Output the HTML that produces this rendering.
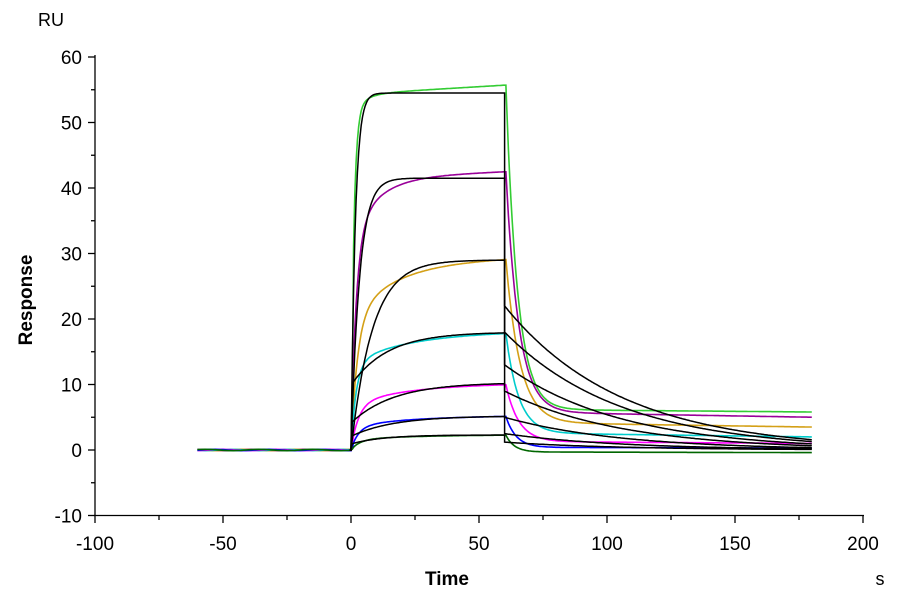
<!DOCTYPE html>
<html><head><meta charset="utf-8"><style>
body{margin:0;background:#fff;}
svg{display:block;font-family:"Liberation Sans",sans-serif;}
</style></head><body>
<svg id="s" width="900" height="600" viewBox="0 0 900 600">
<text x="38" y="26" font-size="18">RU</text>
<text x="447" y="585" font-size="19" font-weight="bold" text-anchor="middle">Time</text>
<text x="880" y="585" font-size="18" text-anchor="middle">s</text>
<text transform="translate(32,300) rotate(-90)" font-size="19" font-weight="bold" text-anchor="middle">Response</text>
<g id="ax" stroke="#000" stroke-width="1.3" fill="none"></g>
<g id="lb" font-size="19" fill="#000"></g>
<g id="cv" fill="none" stroke-width="1.6"></g>
</svg>
<script>
var NS="http://www.w3.org/2000/svg";
function X(t){return 351+2.56*t;}
function Y(v){return 450-6.55*v;}
function el(p,tag,a,txt){var e=document.createElementNS(NS,tag);for(var k in a)e.setAttribute(k,a[k]);if(txt!=null)e.textContent=txt;document.getElementById(p).appendChild(e);}
el("ax","line",{x1:95,y1:55,x2:95,y2:516});
el("ax","line",{x1:94,y1:515.5,x2:864,y2:515.5});
for(var v=-10;v<=60;v+=5){var y=Y(v),big=v%10==0;el("ax","line",{x1:big?88:91,y1:y,x2:95,y2:y});
 if(big)el("lb","text",{x:82,y:y+7,"text-anchor":"end"},v);}
for(var t=-100;t<=200;t+=25){var x=X(t),big=t%50==0;el("ax","line",{x1:x,y1:515.5,x2:x,y2:big?523:520});
 if(big)el("lb","text",{x:x,y:550,"text-anchor":"middle"},t);}
function path(pts,c,w){var d="";pts.forEach(function(p,i){d+=(i?"L":"M")+X(p[0]).toFixed(1)+","+Y(p[1]).toFixed(1);});el("cv","path",{d:d,stroke:c,"stroke-width":w||1.6});}
var S=[
 {c:"#33cc33",A:54.3,k1:0.9,k2:0.2,f:0.95,dr:1.4,b:6.2,bd:5.8,kd:0.22,F0:54.5,F60:22},
 {c:"#990099",A:41.5,k1:0.5,k2:0.1,f:0.78,dr:1.0,b:5.8,bd:5.0,kd:0.2,F0:41.5,F60:18},
 {c:"#d4a017",A:28.5,k1:0.4,k2:0.06,f:0.7,dr:0.8,b:4.2,bd:3.5,kd:0.18,F0:29,F60:13},
 {c:"#00cccc",A:17.5,k1:0.5,k2:0.05,f:0.75,dr:0.5,b:2.6,bd:2.0,kd:0.2,F0:18,F60:9},
 {c:"#ff00ff",A:9.8,k1:0.35,k2:0.05,f:0.7,dr:0.3,b:1.3,bd:1.0,kd:0.2,F0:10.3,F60:5},
 {c:"#0000ff",A:5.0,k1:0.35,k2:0.05,f:0.7,dr:0.2,b:0.4,bd:0.3,kd:0.25,F0:5.2,F60:2.5},
 {c:"#006600",A:2.2,k1:0.3,k2:0.05,f:0.7,dr:0.1,b:-0.3,bd:-0.4,kd:0.3,F0:2.3,F60:1.2}
];
S.forEach(function(s,i){
 var p=[];for(var t=-60;t<=0;t+=1)p.push([t,0.1*Math.sin(t*0.3+i)]);
 for(var t=0;t<=60;t+=0.5){var v=s.A*(s.f*(1-Math.exp(-s.k1*t))+(1-s.f)*(1-Math.exp(-s.k2*t)))+s.dr*t/60;if(t<1)v*=t; p.push([t,v]);}
 var r60=p[p.length-1][1];
 for(var t=60.5;t<=180;t+=0.5){var u=t-60.5;var base=s.b+(s.bd-s.b)*u/120;p.push([t,base+(r60-s.b)*Math.exp(-s.kd*u)]);}
 path(p,s.c,1.6);
});
S.forEach(function(s,i){
 var p=[],k=[0.6,0.3,0.12,0.07,0.06,0.06,0.08][i],g=i<3?0:s.F0*(i==3?0.55:0.4);
 p.push([-0.5,0]);
 for(var t=0;t<=60;t+=0.5){var v=g+(s.F0-g)*(1-Math.exp(-k*t));if(i<3)v=s.F0*(1-Math.exp(-k*t));p.push([t,i>=3&&t==0?0:v]);}
 var kd=0.022;
 for(var t=60;t<=180;t+=0.5){p.push([t,s.F60*Math.exp(-kd*(t-60))]);}
 path(p,"#000",1.5);
});
</script>
</body></html>
